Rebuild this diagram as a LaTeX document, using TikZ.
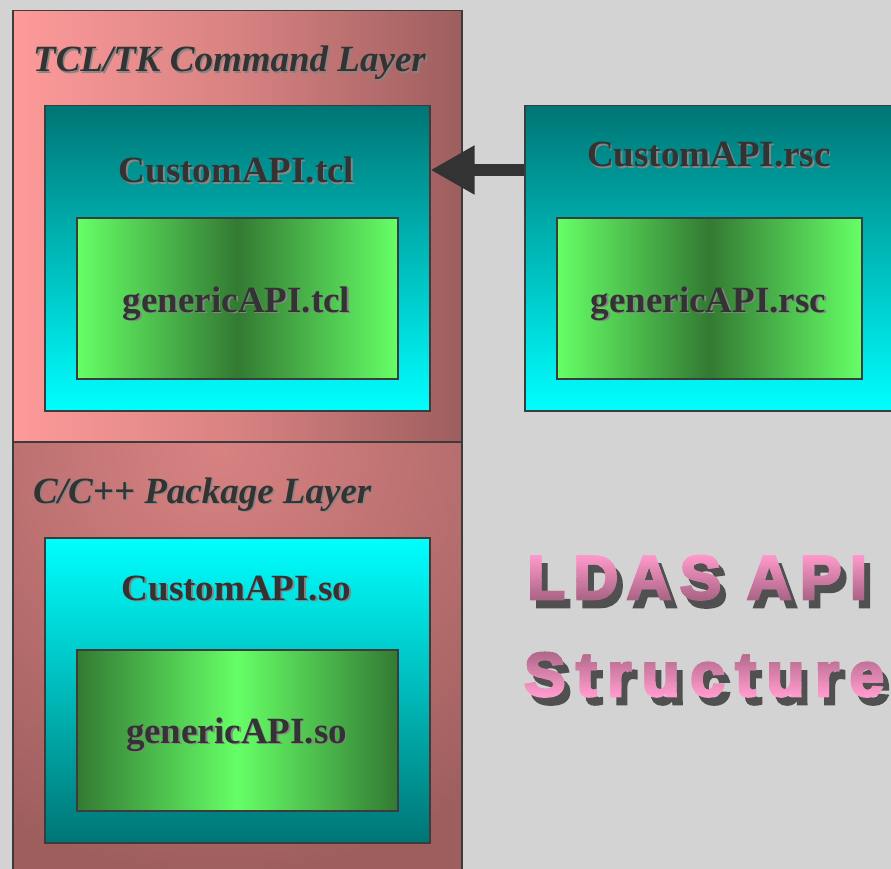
\documentclass[tikz,border=0pt]{standalone}
\usepackage{fontspec}
\setmainfont{Liberation Serif}
\newfontfamily\ldasfamily[LetterSpace=13.6,FakeBold=4]{Liberation Sans Bold}
\newfontfamily\structfamily[LetterSpace=17,FakeBold=4]{Liberation Sans Bold}
\usetikzlibrary{arrows.meta}

\definecolor{bgpaper}{HTML}{D3D3D3}
\definecolor{layerlight}{HTML}{FE9A9A}
\definecolor{layermid}{HTML}{D88282}
\definecolor{layerdark}{HTML}{9E5E5E}
\definecolor{tealdark}{HTML}{007575}
\definecolor{cyanlight}{HTML}{00FFFF}
\definecolor{greenlight}{HTML}{66FF66}
\definecolor{greendark}{HTML}{337A33}
\definecolor{edge}{HTML}{3C3C3C}
\definecolor{ink}{HTML}{333333}
\definecolor{inkshadow}{HTML}{858585}
\definecolor{pinklight}{HTML}{FF9ACC}
\definecolor{pinkdark}{HTML}{AE6688}
\definecolor{titleshadow}{HTML}{505050}

\newcommand\embossed[1]{\leavevmode\rlap{\kern1.5pt\raisebox{-1.5pt}{\textcolor{inkshadow}{#1}}}#1}

% glow of the lower layer, brightest at its top edge
\pgfdeclareradialshading{lowglow}{\pgfpointorigin}{color(0bp)=(layermid); color(25bp)=(layerdark); color(50bp)=(layerdark)}

\tikzset{
  framed/.style={draw=edge, line width=1.5pt, inner sep=0pt, anchor=north west},
  upperlayer/.style={framed, left color=layerlight, right color=layerdark, middle color=layermid},
  lowerlayer/.style={framed, fill=layerdark,
    path picture={\shade[shading=lowglow] ([xshift=-20pt]path picture bounding box.north) circle[radius=430pt];}},
  tealdown/.style={framed, top color=tealdark, bottom color=cyanlight},
  tealup/.style={framed, top color=cyanlight, bottom color=tealdark},
  darkcore/.style={framed, left color=greenlight, right color=greenlight, middle color=greendark},
  lightcore/.style={framed, left color=greendark, right color=greendark, middle color=greenlight},
  boxlabel/.style={inner sep=0pt, anchor=base, text=ink, font=\fontsize{37}{40}\selectfont\bfseries},
  layerlabel/.style={inner sep=0pt, anchor=base west, text=ink, font=\fontsize{37}{40}\selectfont\bfseries\itshape},
  pointer/.style={draw=ink, line width=12pt, -{Triangle[length=44pt,width=46pt]}},
  ldasline/.style={inner sep=0pt, anchor=base west, font=\ldasfamily\fontsize{62}{62}\selectfont},
  structline/.style={inner sep=0pt, anchor=base west, font=\structfamily\fontsize{62}{62}\selectfont},
}

\begin{document}
\begin{tikzpicture}[x=1pt, y=-1pt]
  \path[use as bounding box] (0,0) rectangle (891,869);
  \clip (0,0) rectangle (891,869);
  \fill[bgpaper] (0,0) rectangle (891,869);

  % layers
  \node[upperlayer, minimum width=449pt, minimum height=431pt] (tcllayer) at (12,10) {};
  \node[lowerlayer, minimum width=449pt, minimum height=440pt] (cpplayer) at (12,441) {};
  \node[layerlabel] (tcltitle) at (33,72) {\embossed{TCL/TK Command Layer}};
  \node[layerlabel] (cpptitle) at (33,503) {\embossed{C/C++ Package Layer}};

  % Tcl side
  \node[tealdown, minimum width=385pt, minimum height=305pt] (tclbox) at (44,105) {};
  \node[darkcore, minimum width=321pt, minimum height=161pt] (tclgen) at (76,217) {};
  \node[boxlabel] (tclname) at (236.5,183) {\embossed{CustomAPI.tcl}};
  \node[boxlabel] (tclgenname) at (236.5,312) {\embossed{genericAPI.tcl}};

  % resource side
  \node[tealdown, minimum width=369pt, minimum height=305pt] (rscbox) at (524,105) {};
  \node[darkcore, minimum width=305pt, minimum height=161pt] (rscgen) at (556,217) {};
  \node[boxlabel] (rscname) at (709,167) {\embossed{CustomAPI.rsc}};
  \node[boxlabel] (rscgenname) at (708.5,312) {\embossed{genericAPI.rsc}};

  % shared object side
  \node[tealup, minimum width=385pt, minimum height=305pt] (sobox) at (44,537) {};
  \node[lightcore, minimum width=321pt, minimum height=161pt] (sogen) at (76,649) {};
  \node[boxlabel] (soname) at (236.5,600) {\embossed{CustomAPI.so}};
  \node[boxlabel] (sogenname) at (236.5,743) {\embossed{genericAPI.so}};

  % resource file feeds the Tcl layer
  \draw[pointer] ([yshift=-65pt]rscbox.north west) -- ([yshift=-65pt]tclbox.north east);

  % heading: drop shadow, then the letters painted in thin colour bands
  \node[ldasline, text=titleshadow] (ldasshadow) at (533,607) {LDAS API};
  \node[structline, text=titleshadow] (structshadow) at (530,704) {Structure};
  \foreach \i in {0,...,23} {
    \pgfmathsetmacro\bandtop{\i==0 ? 530 : 555+\i*44/24}
    \pgfmathsetmacro\bandbot{\i==23 ? 640 : 555+(\i+1)*44/24+0.4}
    \pgfmathsetmacro\mixp{100-\i*100/23}
    \begin{scope}
      \clip (480,\bandtop) rectangle (891,\bandbot);
      \node[ldasline, text=pinklight!\mixp!pinkdark] (ldas-\i) at (527,599) {LDAS API};
    \end{scope}
    \pgfmathsetmacro\bandtop{\i==0 ? 625 : 651+\i*45/24}
    \pgfmathsetmacro\bandbot{\i==23 ? 735 : 651+(\i+1)*45/24+0.4}
    \begin{scope}
      \clip (480,\bandtop) rectangle (891,\bandbot);
      \node[structline, text=pinkdark!\mixp!pinklight] (structure-\i) at (524,696) {Structure};
    \end{scope}
  }
\end{tikzpicture}
\end{document}
